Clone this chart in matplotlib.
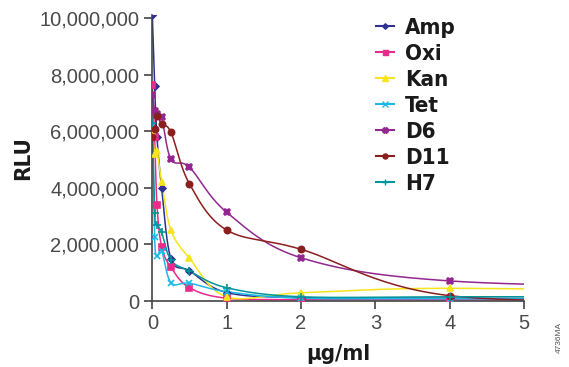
import numpy as np
import matplotlib
matplotlib.use('Agg')
import matplotlib.pyplot as plt
from matplotlib.lines import Line2D
from matplotlib.ticker import FuncFormatter

# concentrations (ug/ml) and RLU readings (millions)
conc = [0, 0.03125, 0.0625, 0.125, 0.25, 0.5, 1, 2, 4, 8]
amp = [10.1, 7.6, 5.8, 4.0, 1.5, 1.07, 0.30, 0.12, 0.10, 0.05]
oxi = [7.64, 5.8, 3.4, 1.92, 1.19, 0.47, 0.10, 0.05, 0.05, 0.05]
kan = [6.0, 5.2, 5.3, 4.22, 2.51, 1.51, 0.15, 0.29, 0.45, 0.30]
tet = [6.2, 2.25, 1.59, 1.78, 0.65, 0.63, 0.33, 0.10, 0.08, 0.05]
d6 = [7.3, 6.72, 6.6, 6.5, 5.02, 4.73, 3.14, 1.53, 0.71, 0.45]
d11 = [5.8, 6.07, 6.54, 6.25, 5.97, 4.14, 2.51, 1.83, 0.19, 0.0]
h7 = [6.3, 3.1, 2.7, 2.43, 1.45, 1.06, 0.47, 0.15, 0.15, 0.15]

names = ['Amp', 'Oxi', 'Kan', 'Tet', 'D6', 'D11', 'H7']
series = [amp, oxi, kan, tet, d6, d11, h7]
colors = ['#2e3192', '#ec2a8c', '#f7e51c', '#1cb8e8', '#93278f', '#8b1e1e', '#00959a']
markers = ['D', 's', '^', 'x', 'X', 'o', '+']
msizes = [3.5, 4.5, 5, 5, 5, 4.5, 6]


def smooth(ax, x, y, n=30):
    """Catmull-Rom curve through the points, computed in screen space."""
    pts = ax.transData.transform(np.column_stack([x, y]))
    p = np.vstack([pts[0], pts, pts[-1]])
    out = []
    t = np.linspace(0, 1, n)[:, None]
    for i in range(1, len(p) - 2):
        p0, p1, p2, p3 = p[i - 1], p[i], p[i + 1], p[i + 2]
        seg = 0.5 * ((2 * p1) + (-p0 + p2) * t + (2 * p0 - 5 * p1 + 4 * p2 - p3) * t ** 2
                     + (-p0 + 3 * p1 - 3 * p2 + p3) * t ** 3)
        out.append(seg)
    curve = np.vstack(out)
    return ax.transData.inverted().transform(curve)


fig = plt.figure(figsize=(5.69, 3.67), dpi=100)
ax = fig.add_axes([0.2677, 0.1798, 0.6533, 0.778])
ax.set_xlim(0, 5)
ax.set_ylim(0, 10.1e6)

handles = []
for name, vals, c, m, ms in zip(names, series, colors, markers, msizes):
    y = np.array(vals) * 1e6
    curve = smooth(ax, conc, y)
    ax.plot(curve[:, 0], curve[:, 1], color=c, lw=1.1, zorder=2)
    ax.plot(conc, y, ls='none', marker=m, color=c, ms=ms, mew=1.2, zorder=3)
    handles.append(Line2D([], [], color=c, lw=1.5, marker=m, ms=ms * 0.8, mew=1.0))

ax.set_xticks(range(0, 6))
ax.set_yticks(np.arange(0, 10.1e6, 2e6))
ax.yaxis.set_major_formatter(FuncFormatter(lambda v, p: f'{int(v):,}'))

for s in ['top', 'right']:
    ax.spines[s].set_visible(False)
for s in ['left', 'bottom']:
    ax.spines[s].set_color('#444444')
    ax.spines[s].set_linewidth(1.2)
ax.tick_params(direction='out', length=6, width=1.2, color='#444444',
               labelcolor='#4a4a4a', labelsize=14.5)
for lab in ax.get_xticklabels() + ax.get_yticklabels():
    lab.set_family('Liberation Sans')

cond = dict(family='DejaVu Sans', stretch='condensed', weight='bold')
ax.set_ylabel('RLU', labelpad=4, size=16, color='#1a1a1a', **cond)
ax.set_xlabel('µg/ml', labelpad=8, size=16, color='#1a1a1a', **cond)

leg = ax.legend(handles, names, loc='upper left', bbox_to_anchor=(0.572, 1.03),
                frameon=False, borderpad=0, handlelength=0.8, handletextpad=0.5,
                labelspacing=0.27, prop=dict(size=16, **cond))
for t in leg.get_texts():
    t.set_color('#1a1a1a')

fig.text(0.99, 0.08, '4736MA', rotation=90, fontsize=6, color='#555555',
         ha='right', va='center', family='Liberation Sans')

fig.savefig('out.png', dpi=100)
